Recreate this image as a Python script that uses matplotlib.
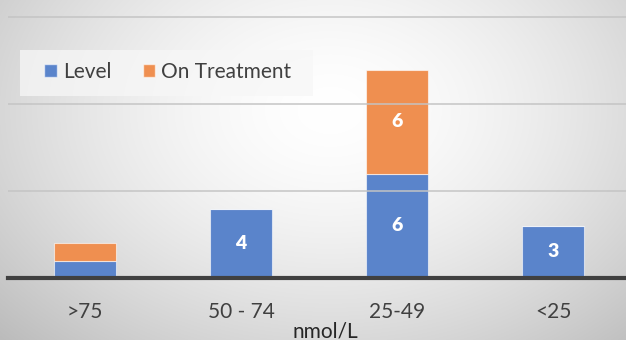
import numpy as np
import matplotlib
matplotlib.use("Agg")
import matplotlib.pyplot as plt
from matplotlib.patches import Patch, Rectangle

categories = [">75", "50 - 74", "25-49", "<25"]
level = [1, 4, 6, 3]
treatment = [1, 0, 6, 0]
level_labels = ["", "4", "6", "3"]
treatment_labels = ["", "", "6", ""]

W, H = 626, 340
fig = plt.figure(figsize=(W / 100, H / 100), dpi=100)

# radial gradient background
bg = fig.add_axes([0, 0, 1, 1])
yy, xx = np.mgrid[0:H, 0:W]
r = np.sqrt(((xx - 330) / 420.0) ** 2 + ((yy - 110) / 300.0) ** 2)
val = 1.0 - 0.23 * np.clip(r, 0, 1.3) ** 1.6
bg.imshow(np.dstack([val, val, val]), extent=[0, 1, 0, 1], aspect="auto", zorder=0)
bg.set_xlim(0, 1)
bg.set_ylim(0, 1)
bg.set_axis_off()
# legend box (drawn on background layer)
bg.add_patch(Rectangle((20 / W, 1 - 96 / H), 293 / W, 46 / H, transform=bg.transAxes,
                       facecolor=(0.97, 0.97, 0.97, 0.75), edgecolor="none", zorder=2))

plt.rcParams["font.family"] = ["Lato", "DejaVu Sans"]

ax = fig.add_axes([8 / W, 1 - 278 / H, 1 - 8 / W, 278 / H])
ax.patch.set_alpha(0)
x = np.arange(len(categories))
blue = "#5A84CB"
orange = "#EF8F50"
ax.bar(x, level, width=0.4, color=blue, edgecolor=(1, 1, 1, 0.6), linewidth=0.8, zorder=2)
ax.bar(x, treatment, width=0.4, bottom=level, color=orange, edgecolor=(1, 1, 1, 0.6),
       linewidth=0.8, zorder=2)

for i in range(len(categories)):
    if level_labels[i]:
        ax.text(x[i], level[i] / 2, level_labels[i], ha="center", va="center",
                color="white", fontsize=14, fontweight="heavy", zorder=4)
    if treatment_labels[i]:
        ax.text(x[i], level[i] + treatment[i] / 2, treatment_labels[i], ha="center",
                va="center", color="white", fontsize=14, fontweight="heavy", zorder=4)

ax.set_xlim((8 - 85) / 156, (626 - 85) / 156)
ax.set_ylim(0, 16)
for g in [5, 10, 15]:
    ax.axhline(g, color="#c4c4c4", linewidth=1.2, zorder=3, alpha=0.9)
ax.set_yticks([])
ax.set_xticks(x)
ax.set_xticklabels(categories, fontsize=15, color="#404040")
ax.tick_params(axis="x", length=0, pad=17)
for s in ["top", "right", "left"]:
    ax.spines[s].set_visible(False)
ax.spines["bottom"].set_color("#404040")
ax.spines["bottom"].set_linewidth(3)
ax.spines["bottom"].set_zorder(5)

fig.text(325 / W, 1 - 331 / H, "nmol/L", ha="center", va="center", fontsize=15, color="#262626")

handles = [Patch(facecolor=blue, edgecolor=(1, 1, 1, 0.6)), Patch(facecolor=orange, edgecolor=(1, 1, 1, 0.6))]
leg = ax.legend(handles, ["Level", "On Treatment"], loc="center left",
                bbox_to_anchor=(44 / W, 1 - 72 / H), bbox_transform=fig.transFigure,
                ncol=2, frameon=False, fontsize=15, borderaxespad=0, borderpad=0,
                handlelength=0.6, handleheight=0.6, handletextpad=0.3, columnspacing=1.5)
leg.set_zorder(6)
for t in leg.get_texts():
    t.set_color("#404040")

fig.savefig("out.png", dpi=100)
